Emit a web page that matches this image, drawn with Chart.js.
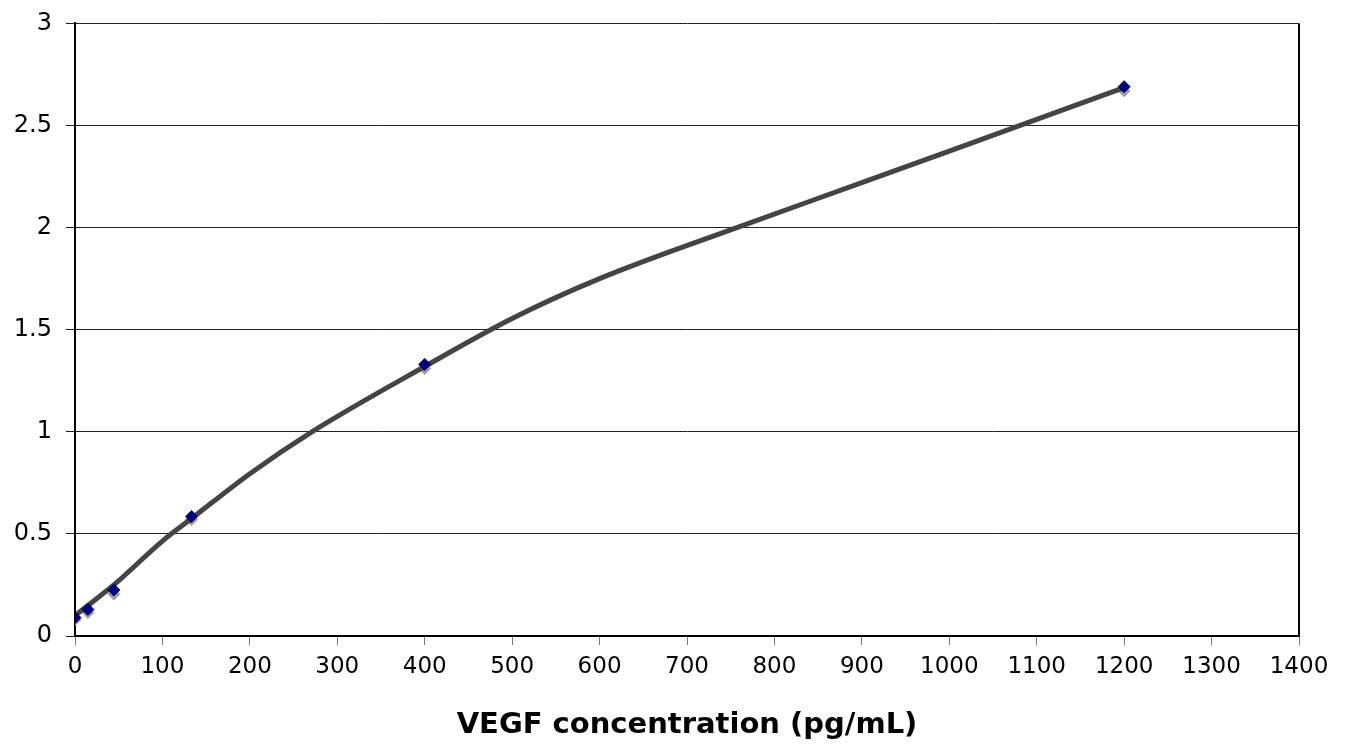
<!DOCTYPE html>
<html>
<head>
<meta charset="utf-8">
<script src="https://cdn.jsdelivr.net/npm/chart.js@4/dist/chart.umd.min.js"></script>
<style>
  html,body{margin:0;padding:0;background:#fff;overflow:hidden;}
  #wrap{width:1350px;height:756px;margin-top:-5px;}
</style>
</head>
<body>
<div id="wrap"><canvas id="c"></canvas></div>
<script>
// standard concentrations (pg/mL)
const conc = [0, 14.8, 44.4, 133.3, 400, 1200];
// OD readings, two replicates
const odA = [0.09, 0.13, 0.225, 0.585, 1.33, 2.69];
const odB = [0.08, 0.115, 0.205, 0.57, 1.31, 2.67];
// fitted curve
const fitX = [0, 14.8, 44.4, 100, 133.3, 200, 271, 400, 500, 600, 757, 900, 1000, 1100, 1200];
const fitY = [0.10, 0.15, 0.25, 0.465, 0.575, 0.795, 1.00, 1.32, 1.555, 1.75, 2.00, 2.22, 2.375, 2.53, 2.685];

const xTicks = {min:0, max:1400, step:100};
const yTicks = {min:0, max:3, step:0.5};
const xTitle = 'VEGF concentration (pg/mL)';

const pts = (xs, ys) => xs.map((x,i)=>({x:x, y:ys[i]}));

// right border of plot area
const frame = {
  id:'frame',
  afterDraw(chart){
    const a = chart.chartArea, ctx = chart.ctx;
    ctx.save();
    ctx.strokeStyle = '#000';
    ctx.lineWidth = 2;
    ctx.beginPath();
    ctx.moveTo(a.right, a.top);
    ctx.lineTo(a.right, a.bottom);
    ctx.stroke();
    ctx.restore();
  }
};

new Chart(document.getElementById('c'), {
  type:'scatter',
  data:{
    datasets:[
      {label:'rep2', data:pts(conc, odB), pointStyle:'rectRot', pointRadius:6, pointBackgroundColor:'#a0a0a0', pointBorderColor:'#a0a0a0', showLine:false, order:3},
      {label:'fit', data:pts(fitX, fitY), showLine:true, borderColor:'#444', borderWidth:5, pointRadius:0, cubicInterpolationMode:'monotone', order:2},
      {label:'rep1', data:pts(conc, odA), pointStyle:'rectRot', pointRadius:6, pointBackgroundColor:'#000080', pointBorderColor:'#000060', showLine:false, order:1}
    ]
  },
  options:{
    responsive:true,
    maintainAspectRatio:false,
    animation:false,
    layout:{padding:{top:12, right:51, left:0, bottom:0}},
    plugins:{legend:{display:false}, tooltip:{enabled:false}},
    scales:{
      x:{
        type:'linear', min:xTicks.min, max:xTicks.max,
        ticks:{stepSize:xTicks.step, color:'#000', font:{family:'DejaVu Sans', size:23}, padding:8, maxRotation:0, callback:v=>String(v)},
        grid:{display:true, drawOnChartArea:false, color:'#777', tickLength:9},
        border:{color:'#000', width:2},
        title:{display:true, text:xTitle, color:'#000', font:{family:'DejaVu Sans', size:29, weight:'bold'}, padding:{top:0, bottom:8}},
        afterFit(s){ s.height = 115; }
      },
      y:{
        min:yTicks.min, max:yTicks.max,
        ticks:{stepSize:yTicks.step, color:'#000', font:{family:'DejaVu Sans', size:24}, padding:14, callback:v=>String(v)},
        grid:{color:'#222', lineWidth:1, tickLength:9},
        border:{color:'#000', width:2},
        afterFit(s){ s.width = 75; }
      }
    }
  },
  plugins:[frame]
});
</script>
</body>
</html>
